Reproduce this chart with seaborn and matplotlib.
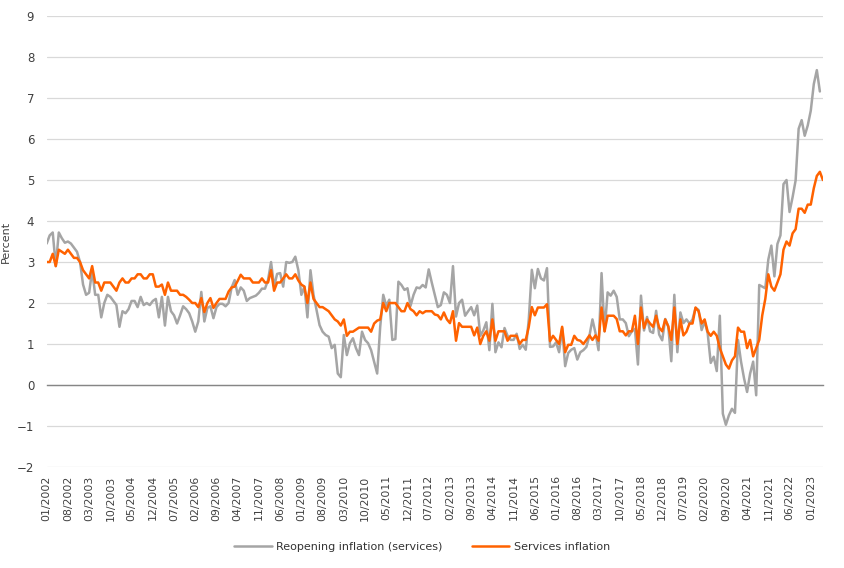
import numpy as np
import pandas as pd
import matplotlib
matplotlib.use("Agg")
import matplotlib.pyplot as plt
from matplotlib.lines import Line2D
import seaborn as sns

# Monthly data, Jan 2002 .. May 2023
services = [
    3.0, 3.0, 3.2, 2.9, 3.3, 3.25, 3.2, 3.3, 3.2, 3.1, 3.1, 3.0,      # 2002
    2.8, 2.7, 2.6, 2.9, 2.5, 2.5, 2.3, 2.5, 2.5, 2.5, 2.4, 2.3,       # 2003
    2.5, 2.6, 2.5, 2.5, 2.6, 2.6, 2.7, 2.7, 2.6, 2.6, 2.7, 2.7,       # 2004
    2.4, 2.4, 2.45, 2.2, 2.5, 2.3, 2.3, 2.3, 2.2, 2.2, 2.15, 2.08,    # 2005
    2.0, 2.0, 1.9, 2.12, 1.78, 2.0, 2.12, 1.88, 2.0, 2.1, 2.1, 2.1,   # 2006
    2.28, 2.38, 2.4, 2.54, 2.69, 2.6, 2.6, 2.6, 2.5, 2.5, 2.5, 2.6,   # 2007
    2.5, 2.5, 2.8, 2.3, 2.5, 2.5, 2.6, 2.7, 2.6, 2.6, 2.7, 2.55,      # 2008
    2.45, 2.4, 2.0, 2.5, 2.1, 2.0, 1.9, 1.9, 1.85, 1.8, 1.7, 1.6,     # 2009
    1.55, 1.45, 1.6, 1.2, 1.3, 1.3, 1.35, 1.4, 1.4, 1.4, 1.4, 1.3,    # 2010
    1.5, 1.57, 1.6, 2.0, 1.8, 2.0, 2.0, 2.0, 1.9, 1.8, 1.8, 2.0,      # 2011
    1.85, 1.8, 1.7, 1.8, 1.75, 1.8, 1.8, 1.8, 1.72, 1.7, 1.6, 1.77,   # 2012
    1.6, 1.51, 1.8, 1.08, 1.51, 1.42, 1.42, 1.42, 1.42, 1.21, 1.4, 1.0,  # 2013
    1.2, 1.31, 1.08, 1.6, 1.08, 1.31, 1.31, 1.31, 1.08, 1.2, 1.2, 1.2,   # 2014
    1.0, 1.1, 1.1, 1.42, 1.9, 1.7, 1.89, 1.89, 1.89, 1.97, 1.07, 1.2,    # 2015
    1.1, 1.0, 1.42, 0.8, 0.98, 0.98, 1.2, 1.1, 1.08, 1.0, 1.1, 1.21,     # 2016
    1.1, 1.21, 1.08, 1.89, 1.31, 1.69, 1.69, 1.69, 1.61, 1.31, 1.31, 1.21,  # 2017
    1.31, 1.31, 1.69, 1.0, 1.89, 1.39, 1.6, 1.5, 1.42, 1.69, 1.4, 1.31,     # 2018
    1.6, 1.43, 1.1, 1.89, 1.0, 1.6, 1.21, 1.3, 1.5, 1.5, 1.89, 1.8,         # 2019
    1.5, 1.6, 1.3, 1.2, 1.3, 1.2, 0.9, 0.7, 0.5, 0.4, 0.6, 0.7,             # 2020
    1.4, 1.3, 1.3, 0.9, 1.1, 0.7, 0.9, 1.1, 1.7, 2.1, 2.7, 2.4,             # 2021
    2.3, 2.5, 2.7, 3.3, 3.5, 3.4, 3.7, 3.8, 4.3, 4.3, 4.2, 4.4,             # 2022
    4.4, 4.8, 5.1, 5.2, 5.0,                                                # 2023
]

reopening = [
    3.45, 3.65, 3.72, 2.9, 3.72, 3.58, 3.47, 3.5, 3.45, 3.35, 3.25, 3.0,     # 2002
    2.45, 2.2, 2.25, 2.8, 2.2, 2.2, 1.65, 2.0, 2.2, 2.15, 2.05, 1.95,        # 2003
    1.42, 1.8, 1.75, 1.85, 2.05, 2.05, 1.9, 2.15, 1.95, 2.0, 1.95, 2.05,     # 2004
    2.1, 1.65, 2.15, 1.45, 2.15, 1.8, 1.7, 1.5, 1.7, 1.92, 1.85, 1.75,       # 2005
    1.55, 1.3, 1.55, 2.27, 1.55, 1.88, 1.92, 1.63, 1.9, 1.98, 1.98, 1.92,    # 2006
    2.0, 2.38, 2.56, 2.2, 2.38, 2.3, 2.05, 2.12, 2.15, 2.18, 2.25, 2.35,     # 2007
    2.35, 2.56, 3.0, 2.4, 2.71, 2.73, 2.4, 3.0, 2.98, 3.0, 3.13, 2.8,        # 2008
    2.2, 2.4, 1.65, 2.8, 2.2, 1.83, 1.46, 1.3, 1.22, 1.18, 0.9, 0.98,        # 2009
    0.28, 0.19, 1.22, 0.73, 1.02, 1.14, 0.9, 0.73, 1.3, 1.1, 1.02, 0.85,     # 2010
    0.57, 0.28, 1.42, 2.2, 1.93, 2.08, 1.1, 1.12, 2.52, 2.44, 2.32, 2.36,    # 2011
    1.93, 2.2, 2.38, 2.36, 2.44, 2.38, 2.82, 2.5, 2.2, 1.9, 1.95, 2.26,      # 2012
    2.2, 2.0, 2.9, 1.67, 2.0, 2.08, 1.69, 1.8, 1.9, 1.7, 1.94, 1.2,          # 2013
    1.33, 1.53, 0.85, 1.98, 0.8, 1.04, 0.92, 1.39, 1.2, 1.1, 1.1, 1.25,      # 2014
    0.88, 0.98, 0.86, 1.6, 2.81, 2.36, 2.83, 2.6, 2.55, 2.85, 0.93, 0.94,    # 2015
    1.04, 0.8, 1.39, 0.46, 0.78, 0.86, 0.9, 0.62, 0.8, 0.85, 0.93, 1.2,      # 2016
    1.6, 1.27, 0.85, 2.73, 1.31, 2.26, 2.18, 2.3, 2.15, 1.6, 1.6, 1.51,      # 2017
    1.19, 1.31, 1.37, 0.5, 2.18, 1.33, 1.66, 1.31, 1.27, 1.81, 1.23, 1.09,   # 2018
    1.61, 1.43, 0.58, 2.2, 0.8, 1.77, 1.51, 1.6, 1.5, 1.6, 1.88, 1.83,       # 2019
    1.34, 1.55, 1.26, 0.54, 0.69, 0.34, 1.69, -0.7, -0.97, -0.74, -0.58, -0.68,  # 2020
    1.1, 0.57, 0.16, -0.17, 0.28, 0.57, -0.25, 2.44, 2.4, 2.36, 3.06, 3.4,       # 2021
    2.65, 3.44, 3.65, 4.9, 5.0, 4.22, 4.58, 4.99, 6.25, 6.46, 6.08, 6.33,        # 2022
    6.69, 7.34, 7.68, 7.16, np.nan,                                              # 2023
]

months = pd.date_range("2002-01-01", periods=len(services), freq="MS")
month_labels = [d.strftime("%m/%Y") for d in months]
tick_every = 7

series_names = ["Reopening inflation (services)", "Services inflation"]
colors = {"Reopening inflation (services)": "#a5a5a5", "Services inflation": "#ff6200"}

idx = np.arange(len(services))
df = pd.DataFrame({
    "idx": np.concatenate([idx, idx]),
    "value": reopening + services,
    "series": [series_names[0]] * len(idx) + [series_names[1]] * len(idx),
})

sns.set_theme(style="white")
plt.rcParams["font.family"] = ["DejaVu Sans"]

fig = plt.figure(figsize=(8.44, 5.68), dpi=100)
ax = fig.add_axes([0.0553, 0.1778, 0.9197, 0.794])

sns.lineplot(data=df, x="idx", y="value", hue="series", palette=colors,
             hue_order=series_names, linewidth=1.8, ax=ax, legend=False)

ax.set_xlim(0, len(services) - 1)
ax.set_ylim(-2, 9)
ax.set_yticks(range(-2, 10))
ax.yaxis.grid(True, color="#d9d9d9", linewidth=0.9)
ax.xaxis.grid(False)
ax.set_axisbelow(True)

for s in ["top", "right", "left"]:
    ax.spines[s].set_visible(False)
ax.spines["bottom"].set_position(("data", 0))
ax.spines["bottom"].set_color("#868686")
ax.spines["bottom"].set_linewidth(1.0)
ax.spines["bottom"].set_zorder(1)

ticks = list(range(0, len(services), tick_every))
ax.set_xticks(ticks)
ax.set_xticklabels([month_labels[t] for t in ticks], rotation=90)
ax.tick_params(axis="x", direction="out", length=4, width=0.9, color="#868686",
               pad=61, labelsize=7.8, labelcolor="#404040")
ax.tick_params(axis="y", length=0, pad=9, labelsize=8.5, labelcolor="#404040")

ax.set_xlabel("")
ax.set_ylabel("Percent", fontsize=8, color="#404040")
ax.yaxis.set_label_coords(-0.046, 0.5)

handles = [Line2D([0], [0], color=colors[n], linewidth=1.8) for n in series_names]
fig.legend(handles, series_names, loc="center", bbox_to_anchor=(0.5, 0.037),
           ncol=2, frameon=False, fontsize=8, handlelength=3.4, columnspacing=2.6,
           handletextpad=0.4, labelcolor="#333333")

fig.savefig("out.png", dpi=100)
